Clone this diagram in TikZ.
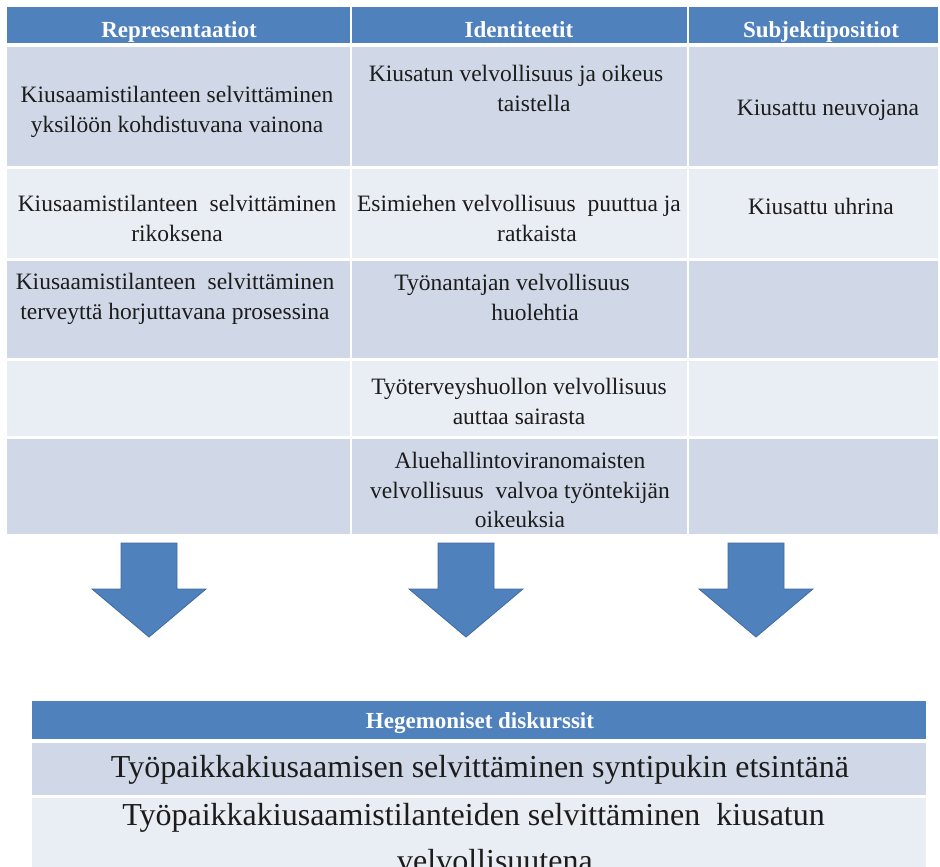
\documentclass[tikz,border=0pt]{standalone}
\usepackage{fontspec}
\setmainfont{Liberation Serif}
\usepackage{color}

\definecolor{hdrblue}{HTML}{4F81BD}
\definecolor{rowdark}{HTML}{D0D8E8}
\definecolor{rowlight}{HTML}{E9EDF4}
\definecolor{arrowedge}{HTML}{3F6A9F}
\definecolor{celltext}{HTML}{1C1C1C}

\begin{document}
\begin{tikzpicture}[x=1pt, y=-1pt,
        hdr/.style={anchor=north, inner sep=0pt, text=white, font=\fontsize{23}{28}\selectfont\bfseries},
        celltxt/.style={anchor=north, inner sep=0pt, align=center, text=celltext, font=\fontsize{23.5}{29.5}\selectfont},
        bigtxt/.style={anchor=north, inner sep=0pt, align=center, text=celltext, font=\fontsize{32}{46}\selectfont}]
            \useasboundingbox (0, 0) rectangle (940, 867);
            % upper table
            \fill[hdrblue] (7, 7) rectangle (350, 43);
            \fill[hdrblue] (352, 7) rectangle (687, 43);
            \fill[hdrblue] (689, 7) rectangle (938, 43);
            \foreach \ytop/\ybot/\rowcol in {47/166/rowdark, 169/258/rowlight, 261/358/rowdark, 361/436/rowlight, 439/534/rowdark}{
                \fill[\rowcol] (7, \ytop) rectangle (350, \ybot);
                \fill[\rowcol] (352, \ytop) rectangle (687, \ybot);
                \fill[\rowcol] (689, \ytop) rectangle (938, \ybot);
            }
            \node[hdr] (repHead) at (179, 21) {Representaatiot};
            \node[hdr] (idHead) at (519, 21) {Identiteetit};
            \node[hdr] (subHead) at (821, 21) {Subjektipositiot};
            \node[celltxt] (rep1) at (177, 86) {Kiusaamistilanteen selvittäminen\\yksilöön kohdistuvana vainona};
            \node[celltxt] (id1) at (534, 65) {Kiusatun velvollisuus ja oikeus\hspace*{36pt}\\taistella};
            \node[celltxt] (sub1) at (828, 100) {Kiusattu neuvojana};
            \node[celltxt] (rep2) at (177, 195) {Kiusaamistilanteen\ \ selvittäminen\\rikoksena};
            \node[celltxt] (id2) at (537, 195) {Esimiehen velvollisuus\ \ puuttua ja\hspace*{36pt}\\ratkaista};
            \node[celltxt] (sub2) at (821, 198) {Kiusattu uhrina};
            \node[celltxt] (rep3) at (175, 273) {Kiusaamistilanteen\ \ selvittäminen\\terveyttä horjuttavana prosessina};
            \node[celltxt] (id3) at (535, 274) {Työnantajan velvollisuus\hspace*{46pt}\\huolehtia};
            \node[celltxt] (id4) at (519, 378) {Työterveyshuollon velvollisuus\\auttaa sairasta};
            \node[celltxt] (id5) at (520, 452) {Aluehallintoviranomaisten\\velvollisuus\ \ valvoa työntekijän\\oikeuksia};
            % block arrows
            \foreach \ax in {149, 466, 756}
                \filldraw[fill=hdrblue, draw=arrowedge, line width=0.8pt] ({\ax-28}, 543) -- ({\ax+28}, 543) -- ({\ax+28}, 589) -- ({\ax+57}, 589) -- (\ax, 637) -- ({\ax-57}, 589) -- ({\ax-28}, 589) -- cycle;
            % lower table
            \fill[hdrblue] (32, 701) rectangle (926, 739);
            \fill[rowdark] (32, 743) rectangle (926, 795);
            \fill[rowlight] (32, 798) rectangle (926, 867);
            \node[hdr] (hegHead) at (480, 712) {Hegemoniset diskurssit};
            \node[bigtxt] (heg1) at (480, 755) {Työpaikkakiusaamisen selvittäminen syntipukin etsintänä};
            \node[bigtxt] (heg2) at (495, 803) {Työpaikkakiusaamistilanteiden selvittäminen\ \ kiusatun\hspace*{43pt}\\velvollisuutena};
        \end{tikzpicture}
\end{document}
